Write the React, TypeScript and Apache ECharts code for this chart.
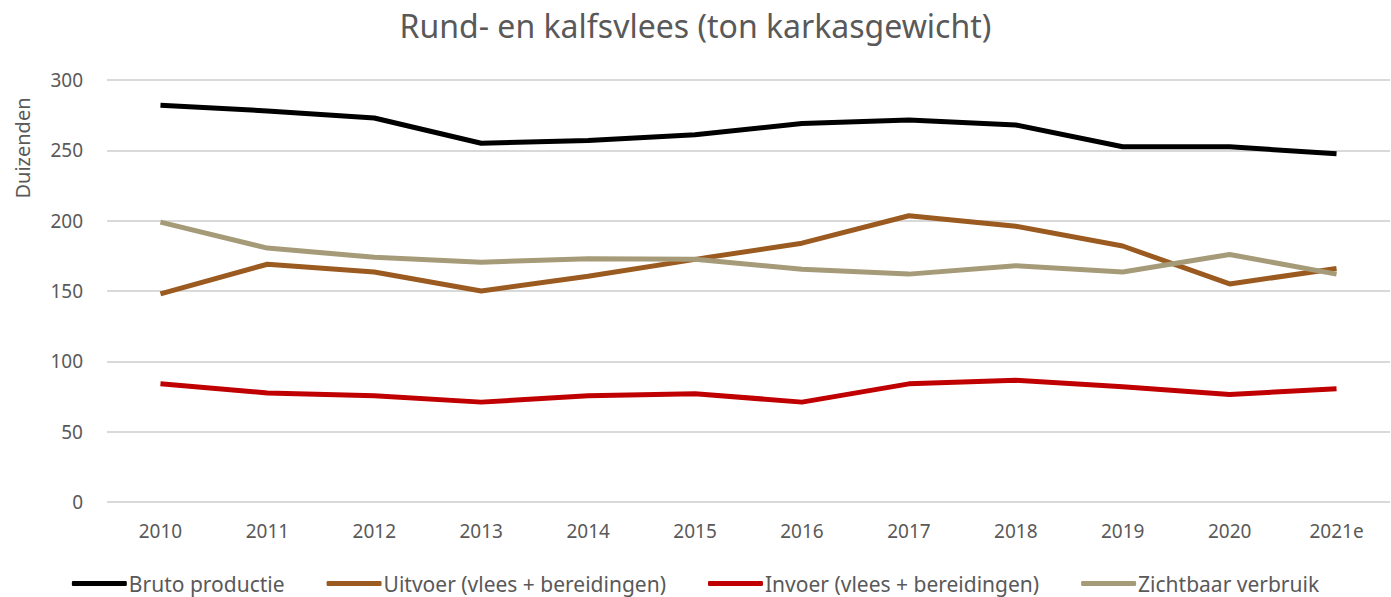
import React, { useEffect, useRef } from "react";
import * as echarts from "echarts";

const years = ["2010", "2011", "2012", "2013", "2014", "2015", "2016", "2017", "2018", "2019", "2020", "2021e"];
const brutoProductie = [282, 278, 273, 255, 257, 261, 269, 271.5, 268, 252.5, 252.5, 247.5];
const uitvoer = [148, 169, 163.5, 150, 160.5, 172.5, 184, 203.5, 196, 182, 155, 166];
const invoer = [84, 77.5, 75.5, 71, 75.5, 77, 71, 84, 86.5, 82, 76.5, 80.5];
const zichtbaarVerbruik = [199, 180.5, 174, 170.5, 173, 172.5, 165.5, 162, 168, 163.5, 176, 162];
const yTicks = { min: 0, max: 300, interval: 50 };

const FONT = "'Noto Sans', sans-serif";

export default function App() {
  const ref = useRef<HTMLDivElement>(null);
  useEffect(() => {
    if (!ref.current) return;
    const chart = echarts.init(ref.current, null, { renderer: "svg" });
    const mk = (name: string, data: number[], color: string) => ({
      name,
      type: "line",
      data,
      symbol: "none",
      lineStyle: { width: 5, color },
      itemStyle: { color },
      emphasis: { disabled: true },
    });
    chart.setOption({
      animation: false,
      backgroundColor: "#ffffff",
      textStyle: { fontFamily: FONT },
      title: {
        text: "Rund- en kalfsvlees (ton karkasgewicht)",
        left: "center",
        top: 4,
        textStyle: { fontFamily: FONT, fontSize: 32, fontWeight: "normal", color: "#595959" },
      },
      graphic: [
        {
          type: "text",
          x: 22,
          y: 148,
          rotation: Math.PI / 2,
          style: {
            text: "Duizenden",
            font: "20px 'Noto Sans', sans-serif",
            fill: "#595959",
            align: "center",
            verticalAlign: "middle",
          },
        },
      ],
      legend: {
        bottom: -2,
        left: "center",
        itemWidth: 55,
        itemHeight: 5,
        itemGap: 42,
        icon: "roundRect",
        textStyle: { fontFamily: FONT, fontSize: 21, color: "#595959", padding: [0, 0, 0, -3] },
        data: ["Bruto productie", "Uitvoer (vlees + bereidingen)", "Invoer (vlees + bereidingen)", "Zichtbaar verbruik"],
      },
      grid: { left: 107, right: 1, top: 80, bottom: 95, containLabel: false },
      xAxis: {
        type: "category",
        data: years,
        boundaryGap: true,
        axisLine: { show: false },
        axisTick: { show: false },
        axisLabel: { fontFamily: FONT, fontSize: 19, color: "#595959", margin: 19 },
      },
      yAxis: {
        type: "value",
        min: yTicks.min,
        max: yTicks.max,
        interval: yTicks.interval,
        axisLine: { show: false },
        axisTick: { show: false },
        axisLabel: { fontFamily: FONT, fontSize: 19, color: "#595959", margin: 24 },
        splitLine: { lineStyle: { color: "#d9d9d9", width: 2 } },
      },
      series: [
        mk("Bruto productie", brutoProductie, "#000000"),
        mk("Uitvoer (vlees + bereidingen)", uitvoer, "#9a5a20"),
        mk("Invoer (vlees + bereidingen)", invoer, "#c00000"),
        mk("Zichtbaar verbruik", zichtbaarVerbruik, "#a69b78"),
      ],
    });
    return () => chart.dispose();
  }, []);
  return <div ref={ref} style={{ width: 1391, height: 597, position: "absolute", left: 0, top: 0 }} />;
}
